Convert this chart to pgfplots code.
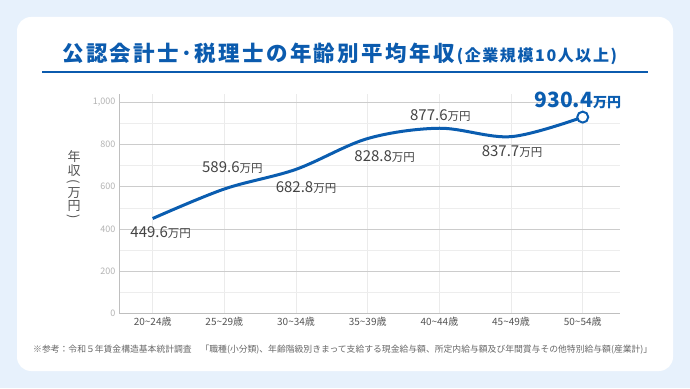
\documentclass[border=0pt]{standalone}
\usepackage{pgfplots}
\pgfplotsset{compat=1.18}
\usepackage{fontspec}
\setmainfont{Noto Sans CJK JP}
\definecolor{bgblue}{HTML}{E7F1FC}
\definecolor{titleblue}{HTML}{0B5BAE}
\definecolor{lineblue}{HTML}{0A5DB0}
\definecolor{txtgray}{HTML}{444444}
\definecolor{ticky}{HTML}{B3B3B3}
\definecolor{tickx}{HTML}{555555}
\definecolor{notegray}{HTML}{666666}
\newcommand{\val}[1]{{\fontsize{15}{15}\selectfont #1}{\fontsize{11.5}{11.5}\selectfont 万円}}
\begin{document}
\begin{tikzpicture}[x=1pt,y=1pt]
\fill[bgblue] (0,0) rectangle (690,388);
\fill[white, rounded corners=14pt] (17,17) rectangle (673,371);
\node[anchor=west, inner sep=0pt, text=titleblue] at (62,334)
 {\fontsize{21.5}{21.5}\selectfont\bfseries\addfontfeature{LetterSpace=11}公認会計士･税理士の年齢別平均年収\hspace{2pt}{\fontsize{16}{16}\selectfont\addfontfeature{LetterSpace=10}(企業規模10人以上)}};
\draw[titleblue, line width=1.2pt] (42,316) -- (648,316);
\begin{scope}[every node/.style={text=tickx, inner sep=0pt, font=\fontsize{13}{13}\selectfont}]
\node at (74,231) {年};
\node at (74,217.5) {収};
\node[rotate=-90] at (74,206) {(};
\node at (74,195) {万};
\node at (74,182) {円};
\node[rotate=-90] at (74,171) {)};
\end{scope}
\node[anchor=west, inner sep=0pt, text=notegray] at (33,38)
 {\resizebox{619pt}{!}{\fontsize{8.5}{8.5}\selectfont ※参考：令和５年賃金構造基本統計調査　「職種(小分類)、年齢階級別きまって支給する現金給与額、所定内給与額及び年間賞与その他特別給与額(産業計)」}};
\begin{axis}[
 at={(119pt,74.7pt)}, anchor=south west,
 scale only axis, width=501pt, height=219.3pt,
 xmin=-0.47, xmax=6.52, ymin=0, ymax=1040,
 clip=false,
 axis x line*=bottom, axis y line*=left,
 axis line style={draw=black!25, line width=0.8pt, -},
 xtick={0,...,6},
 xticklabels={20\textasciitilde 24歳,25\textasciitilde 29歳,30\textasciitilde 34歳,35\textasciitilde 39歳,40\textasciitilde 44歳,45\textasciitilde 49歳,50\textasciitilde 54歳},
 ytick={0,200,...,1000},
 minor ytick={100,300,...,900},
 ymajorgrids, yminorgrids, xmajorgrids,
 major y grid style={draw=black!20, line width=0.7pt},
 minor y grid style={draw=black!7, line width=0.7pt},
 major x grid style={draw=black!8, line width=0.7pt},
 major tick length=0pt, minor tick length=0pt,
 /pgf/number format/assume math mode=true,
 /pgf/number format/1000 sep={,},
 yticklabel style={font=\fontsize{9}{9}\selectfont, text=ticky},
 xticklabel style={font=\fontsize{10}{10}\selectfont, text=tickx},
]
\addplot[smooth, tension=0.55, color=lineblue, line width=3pt] coordinates {
 (0,449.6) (1,589.6) (2,682.8) (3,828.8) (4,877.6) (5,837.7) (6,930.4)};
\addplot[only marks, mark=*, mark size=5.5pt, mark options={fill=white, draw=lineblue, line width=2pt}] coordinates {(6,930.4)};
\node[text=txtgray] at (axis cs:0,449.6) [xshift=8pt, yshift=-14pt] {\val{449.6}};
\node[text=txtgray] at (axis cs:1,589.6) [xshift=8pt, yshift=21pt] {\val{589.6}};
\node[text=txtgray] at (axis cs:2,682.8) [xshift=10pt, yshift=-18pt] {\val{682.8}};
\node[text=txtgray] at (axis cs:3,828.8) [xshift=17pt, yshift=-18pt] {\val{828.8}};
\node[text=txtgray] at (axis cs:4,877.6) [xshift=1pt, yshift=13pt] {\val{877.6}};
\node[text=txtgray] at (axis cs:5,837.7) [xshift=1pt, yshift=-15pt] {\val{837.7}};
\node[text=lineblue] at (axis cs:6,930.4) [xshift=-5pt, yshift=17pt] {\bfseries{\fontsize{21}{21}\selectfont 930.4}{\fontsize{14}{14}\selectfont 万円}};
\end{axis}
\end{tikzpicture}
\end{document}
